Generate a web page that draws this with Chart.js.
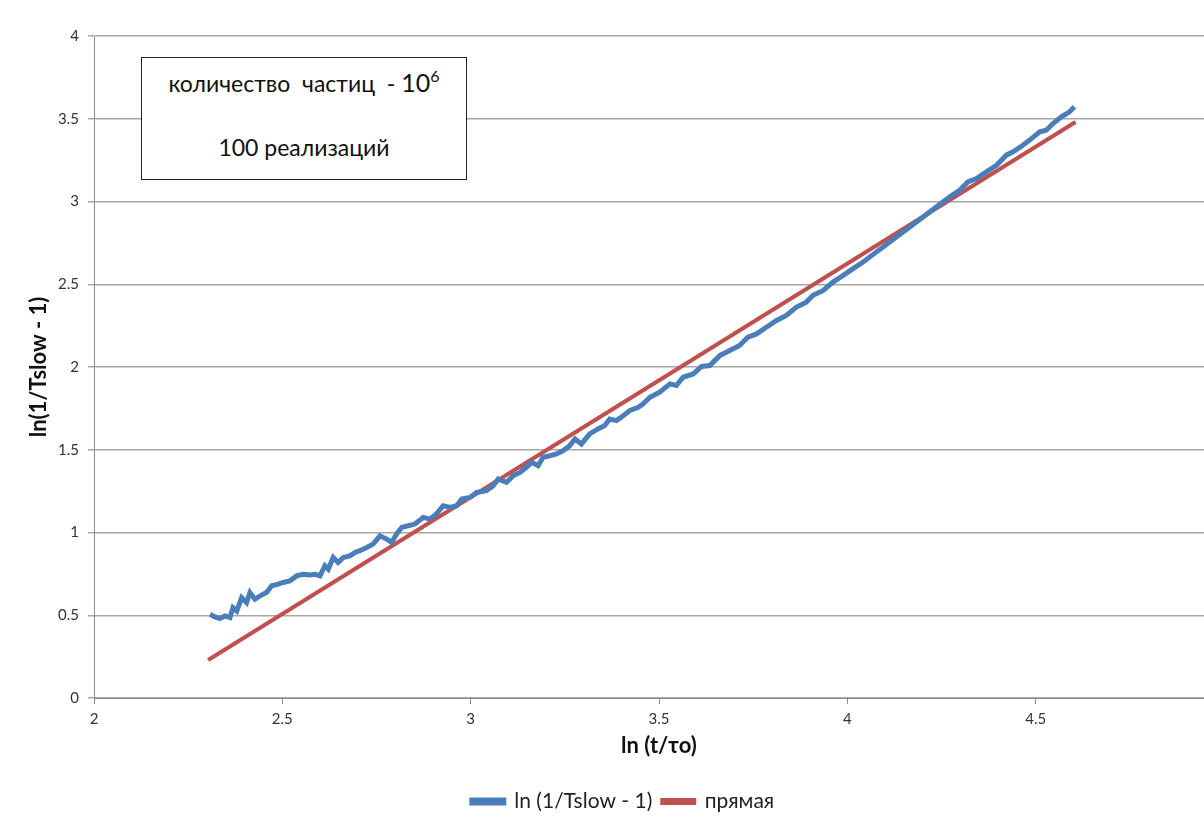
<!DOCTYPE html>
<html>
<head>
<meta charset="utf-8">
<script src="https://cdn.jsdelivr.net/npm/chart.js@4/dist/chart.umd.min.js"></script>
<style>
  body { margin: 0; overflow: hidden; background: #fff; }
  #wrap { position: relative; width: 1240px; height: 822px; }
  #note { position: absolute; left: 141px; top: 57px; width: 324px; height: 121px;
          border: 1px solid #222; background: #fff; font-family: Lato, sans-serif; color: #111; }
  #note .l1, #note .l2 { position: absolute; left: 0; right: 0; text-align: center;
          font-size: 23px; line-height: 28px; white-space: nowrap; }
  #note .l1 { top: 10px; }
  #note .l2 { top: 75px; }
  #note sup { font-size: 16px; line-height: 0; vertical-align: 10px; }
</style>
</head>
<body>
<div id="wrap">
  <canvas id="myChart" width="1240" height="822"></canvas>
  <div id="note">
    <div class="l1">количество&nbsp; частиц &nbsp;- <span style="font-size:25px">10<sup>6</sup></span></div>
    <div class="l2">100 реализаций</div>
  </div>
</div>
<script>
// измеренная кривая ln(1/Tslow - 1) от ln(t/to)
var blueX = [2.308,2.321,2.334,2.348,2.361,2.369,2.379,2.392,2.405,2.414,2.427,2.441,2.458,2.472,2.489,
  2.502,2.520,2.538,2.555,2.573,2.587,2.600,2.613,2.622,2.635,2.648,2.662,2.679,2.693,2.706,2.724,2.741,
  2.759,2.777,2.790,2.803,2.817,2.834,2.852,2.874,2.892,2.909,2.927,2.945,2.963,2.976,2.998,3.016,3.042,
  3.060,3.073,3.095,3.113,3.131,3.148,3.162,3.179,3.192,3.210,3.228,3.246,3.263,3.277,3.294,3.316,3.338,
  3.356,3.369,3.387,3.405,3.423,3.445,3.458,3.476,3.502,3.529,3.546,3.564,3.591,3.613,3.635,3.662,3.688,
  3.714,3.736,3.759,3.785,3.812,3.838,3.865,3.891,3.909,3.936,3.962,3.989,4.015,4.042,4.059,4.095,4.130,
  4.166,4.201,4.236,4.272,4.298,4.320,4.343,4.369,4.396,4.422,4.440,4.466,4.484,4.511,4.528,4.546,4.568,
  4.590,4.603];
var blueY = [0.506,0.490,0.480,0.496,0.486,0.546,0.526,0.607,0.577,0.637,0.597,0.617,0.637,0.678,0.688,
  0.698,0.708,0.738,0.748,0.744,0.748,0.738,0.799,0.779,0.849,0.819,0.849,0.859,0.879,0.890,0.909,0.930,
  0.980,0.960,0.940,0.990,1.031,1.041,1.051,1.091,1.081,1.112,1.162,1.152,1.162,1.202,1.212,1.242,1.253,
  1.283,1.323,1.303,1.343,1.363,1.394,1.424,1.404,1.454,1.464,1.475,1.495,1.525,1.565,1.535,1.596,1.626,
  1.646,1.686,1.676,1.706,1.737,1.757,1.777,1.817,1.848,1.898,1.888,1.938,1.958,2.003,2.009,2.070,2.100,
  2.130,2.180,2.200,2.240,2.281,2.312,2.362,2.392,2.433,2.463,2.513,2.554,2.594,2.634,2.664,2.725,2.785,
  2.846,2.906,2.967,3.028,3.068,3.118,3.139,3.179,3.219,3.280,3.300,3.340,3.371,3.421,3.431,3.471,3.512,
  3.542,3.572];

// прямая
var lineX = [2.303, 4.606];
var lineY = [0.23, 3.48];

var seriesNames = ['ln (1/Tslow - 1)', 'прямая'];
var yTicks = [0, 0.5, 1, 1.5, 2, 2.5, 3, 3.5, 4];

function toPoints(xs, ys){
  var pts = [];
  for (var i = 0; i < xs.length; i++) {
    pts.push({x: xs[i], y: ys[i]});
  }
  return pts;
}

var fontFam = 'Lato, "Open Sans", sans-serif';

var ctx = document.getElementById('myChart').getContext('2d');
var grafico = new Chart(ctx, {
  type: 'line',
  data: {
    datasets: [{
      label: seriesNames[0],
      data: toPoints(blueX, blueY),
      borderColor: '#4a7ebb',
      backgroundColor: '#4a7ebb',
      borderWidth: 5,
      pointRadius: 0,
      tension: 0
    }, {
      label: seriesNames[1],
      data: toPoints(lineX, lineY),
      borderColor: '#c0504d',
      backgroundColor: '#c0504d',
      borderWidth: 4,
      pointRadius: 0,
      tension: 0
    }]
  },
  options: {
    responsive: false,
    animation: false,
    layout: { padding: { top: 36, right: 16, left: 22, bottom: 0 } },
    plugins: {
      tooltip: { enabled: false },
      legend: {
        position: 'bottom',
        labels: {
          boxWidth: 32, boxHeight: 3,
          color: '#222',
          font: { family: fontFam, size: 21 },
          padding: 10
        }
      }
    },
    scales: {
      x: {
        type: 'linear',
        min: 2, max: 5,
        border: { color: '#8c8c8c', width: 1 },
        grid: { drawOnChartArea: false, color: '#8c8c8c', tickLength: 6 },
        ticks: { stepSize: 0.5, color: '#333', font: { family: fontFam, size: 15 }, padding: 6, maxRotation: 0,
                 callback: function(v){ return String(v); } },
        title: { display: true, text: 'ln (t/τo)', color: '#111',
                 font: { family: fontFam, size: 22, weight: 'bold' }, padding: { top: 4, bottom: 22 } },
        afterFit: function(scale){ scale.height = 83; }
      },
      y: {
        min: 0, max: 4,
        border: { color: '#8c8c8c', width: 1 },
        grid: { color: '#a6a6a6', lineWidth: 1.5, tickLength: 6 },
        afterBuildTicks: function(scale){ scale.ticks = yTicks.map(function(v){ return {value: v}; }); },
        ticks: { color: '#333', font: { family: fontFam, size: 15 }, padding: 9,
                 callback: function(v){ return String(v); } },
        title: { display: true, text: 'ln(1/Tslow - 1)', color: '#111',
                 font: { family: fontFam, size: 22, weight: 'bold' } },
        afterFit: function(scale){ scale.width = 72; }
      }
    }
  }
});
</script>
</body>
</html>
